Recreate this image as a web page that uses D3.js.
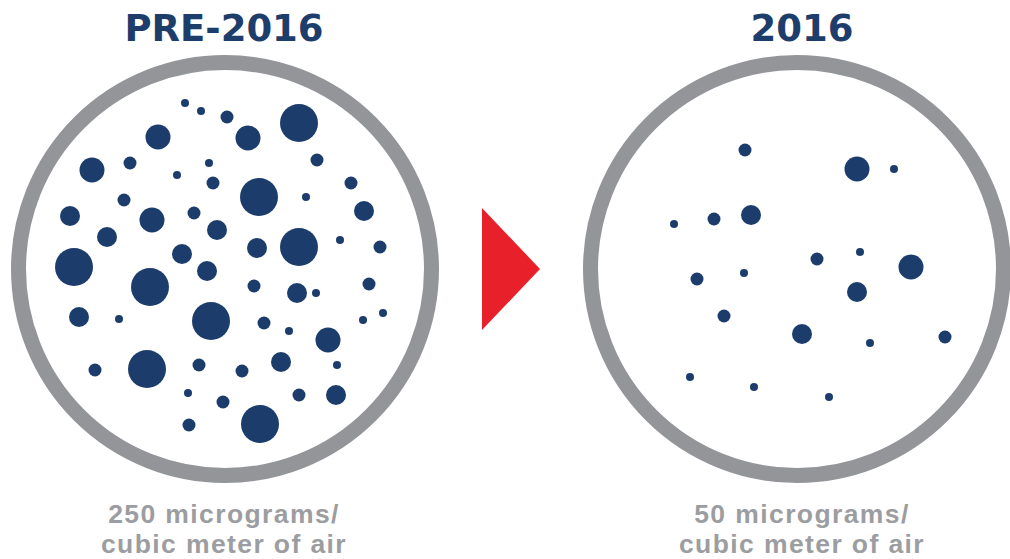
<!DOCTYPE html>
<html>
<head>
<meta charset="utf-8">
<script src="https://cdn.jsdelivr.net/npm/d3@7"></script>
<style>
  html, body { margin: 0; padding: 0; background: #fff; }
  svg { display: block; }
  .title { font-family: 'DejaVu Sans', sans-serif; font-weight: bold; fill: #1d3d6b; }
  .caption { font-family: 'Liberation Sans', sans-serif; font-weight: 700; fill: #9c9da0; letter-spacing: 1.4px; }
</style>
</head>
<body>
<svg id="chart"></svg>
<script>
// panels, left to right
const panelTitles = ['PRE-2016', '2016'];
const concentrations = [250, 50];
const unitLines = ['micrograms/', 'cubic meter of air'];

// particles: [dx, dy, sizeClass], offsets from the circle centre
const preDots = [
  [-40, -166, 1], [-24, -158, 1], [2, -152, 2], [74, -146, 5], [-67, -132, 4],
  [23, -131, 4], [-133, -99, 4], [-95, -106, 2], [-16, -106, 1], [-48, -94, 1],
  [92, -109, 2], [-12, -86, 2], [34, -72, 5], [81, -72, 1], [126, -86, 2],
  [139, -58, 3], [-101, -69, 2], [-155, -53, 3], [-73, -49, 4], [-31, -56, 2],
  [-118, -32, 3], [-8, -39, 3], [74, -22, 5], [32, -21, 3], [115, -29, 1],
  [155, -22, 2], [-43, -15, 3], [-151, -2, 5], [-75, 18, 5], [-18, 2, 3],
  [29, 17, 2], [72, 24, 3], [91, 24, 1], [144, 15, 2], [-146, 48, 3],
  [-106, 50, 1], [-14, 52, 5], [39, 54, 2], [64, 62, 1], [138, 51, 1],
  [158, 44, 1], [103, 71, 4], [-130, 101, 2], [-78, 100, 5], [-26, 96, 2],
  [17, 102, 2], [56, 93, 3], [112, 96, 1], [-37, 124, 1], [-2, 133, 2],
  [74, 126, 2], [111, 126, 3], [-36, 156, 2], [35, 155, 5]
];
const postDots = [
  [-52, -119, 2], [60, -100, 4], [97, -100, 1], [-123, -45, 1], [-83, -50, 2],
  [-46, -54, 3], [20, -10, 2], [63, -17, 1], [114, -2, 4], [-100, 10, 2],
  [-53, 4, 1], [60, 23, 3], [-73, 47, 2], [5, 65, 3], [73, 74, 1],
  [148, 68, 2], [-107, 108, 1], [-43, 118, 1], [32, 128, 1]
];
const panelDots = [preDots, postDots];

const width = 1010;
const height = 559;
const centersX = [225, 797];
const textX = [224, 802];
const centerY = 269;
const ringR = 206.5;

const svg = d3.select('#chart').attr('width', width).attr('height', height);

const sizeScale = d3.scaleOrdinal().domain([1, 2, 3, 4, 5]).range([4, 6.5, 10, 12.5, 19]);

function drawPanel(i) {
  const cx = centersX[i];
  const x = d3.scaleLinear().domain([-200, 200]).range([cx - 200, cx + 200]);
  const y = d3.scaleLinear().domain([-200, 200]).range([centerY - 200, centerY + 200]);

  const g = svg.append('g').attr('class', 'panel');

  g.append('circle')
    .attr('cx', cx)
    .attr('cy', centerY)
    .attr('r', ringR)
    .attr('fill', 'none')
    .attr('stroke', '#939598')
    .attr('stroke-width', 15);

  g.selectAll('circle.dot')
    .data(panelDots[i])
    .enter()
    .append('circle')
    .attr('class', 'dot')
    .attr('cx', (d) => x(d[0]))
    .attr('cy', (d) => y(d[1]))
    .attr('r', (d) => sizeScale(d[2]))
    .attr('fill', '#1c3d6c');

  g.append('text')
    .attr('class', 'title')
    .attr('x', textX[i])
    .attr('y', 41)
    .attr('text-anchor', 'middle')
    .style('font-size', '37px')
    .text(panelTitles[i]);

  const cap = g.append('text')
    .attr('class', 'caption')
    .attr('text-anchor', 'middle')
    .style('font-size', '26.5px');
  cap.append('tspan').attr('x', textX[i]).attr('y', 523).text(`${concentrations[i]} ${unitLines[0]}`);
  cap.append('tspan').attr('x', textX[i]).attr('y', 553).text(unitLines[1]);
}

panelTitles.forEach((_, i) => drawPanel(i));

// red arrow between the two panels
const arrowX = (centersX[0] + centersX[1]) / 2 - 29;
svg.append('path')
  .attr('d', d3.line()([[arrowX, centerY - 61], [arrowX + 58, centerY], [arrowX, centerY + 61]]) + 'Z')
  .attr('fill', '#e8202a');
</script>
</body>
</html>
